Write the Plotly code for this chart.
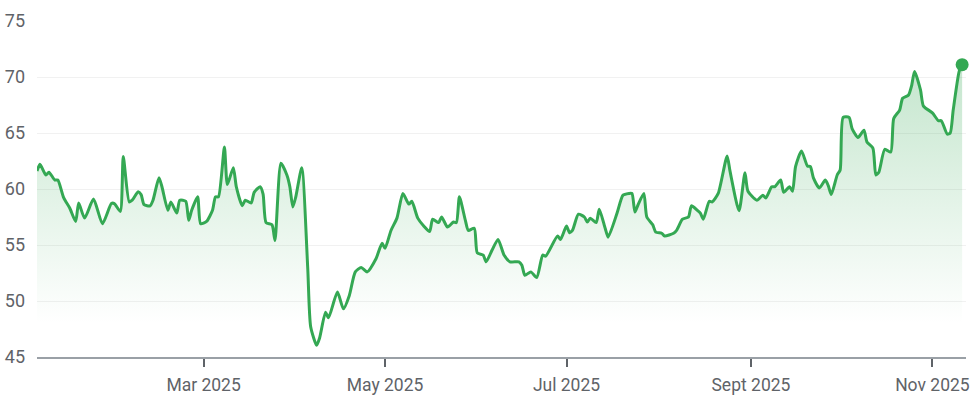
import pandas as pd
import plotly.graph_objects as go

# Day offsets from 2025-01-01 and closing prices
day_offsets = [
    3, 4, 6, 7, 9, 10, 12, 14, 16, 17, 19, 22, 25, 28, 29, 31, 32, 34, 35, 37,
    38, 39, 41, 42, 44, 45, 47, 48, 50, 51, 53, 54, 55, 57, 58, 60, 62, 63, 64, 66,
    67, 69, 70, 72, 73, 75, 76, 78, 79, 80, 82, 83, 85, 87, 88, 89, 90, 92, 94, 95,
    97, 98, 100, 101, 104, 106, 108, 110, 112, 114, 117, 119, 120, 122, 124, 126, 128, 129, 131, 133,
    135, 136, 138, 139, 141, 143, 144, 145, 147, 148, 150, 151, 153, 154, 156, 158, 160, 162, 165, 166,
    167, 169, 171, 173, 174, 178, 179, 181, 182, 183, 185, 187, 188, 189, 191, 192, 194, 195, 198, 200,
    202, 203, 204, 205, 207, 208, 210, 211, 213, 214, 217, 218, 220, 222, 223, 225, 226, 227, 229, 230,
    232, 235, 236, 239, 241, 242, 245, 247, 248, 250, 251, 253, 254, 256, 257, 258, 260, 262, 263, 264,
    266, 268, 269, 270, 272, 273, 274, 276, 277, 279, 281, 282, 284, 285, 286, 288, 290, 291, 293, 294,
    296, 297, 298, 300, 301, 304, 306, 307, 309, 310, 311, 313, 314,
]
prices = [
    61.6, 62.2, 61.25, 61.5, 60.8, 60.8, 59.2, 58.3, 57.1, 58.75, 57.4, 59.1, 56.9, 58.7, 58.7, 58.0, 62.9, 58.85, 59.0, 59.75,
    59.5, 58.6, 58.5, 59.0, 61.0, 60.2, 58.1, 58.85, 57.85, 59.0, 58.9, 57.2, 58.1, 59.3, 56.9, 57.1, 58.1, 59.3, 59.3, 63.75,
    60.4, 61.9, 60.2, 58.5, 59.0, 58.75, 59.7, 60.2, 59.55, 57.0, 56.8, 55.4, 62.3, 61.25, 60.2, 58.4, 59.3, 61.9, 53.0, 47.7,
    46.05, 46.7, 49.0, 48.5, 50.8, 49.3, 50.5, 52.6, 53.0, 52.6, 53.8, 55.15, 54.7, 56.3, 57.4, 59.6, 58.65, 58.9, 57.4, 56.7,
    56.2, 57.3, 57.0, 57.5, 56.6, 57.05, 57.0, 59.3, 57.2, 56.3, 56.5, 54.3, 54.1, 53.5, 54.55, 55.5, 54.1, 53.5, 53.5, 53.2,
    52.3, 52.6, 52.1, 54.1, 54.0, 55.8, 55.5, 56.7, 56.1, 56.3, 57.75, 57.5, 57.05, 57.4, 57.0, 58.2, 56.5, 55.7, 57.85, 59.45,
    59.6, 59.6, 57.95, 58.55, 59.6, 57.5, 56.8, 56.15, 56.05, 55.8, 56.05, 56.3, 57.3, 57.5, 58.5, 58.1, 57.85, 57.3, 58.9, 58.85,
    59.6, 62.95, 61.55, 58.05, 61.45, 59.8, 59.0, 59.45, 59.2, 60.2, 60.2, 60.8, 59.7, 60.2, 59.8, 62.0, 63.4, 62.05, 62.0, 61.0,
    60.1, 60.8, 60.3, 59.5, 61.25, 61.7, 66.4, 66.4, 65.4, 64.6, 65.25, 64.2, 63.65, 61.25, 61.5, 63.55, 63.3, 66.3, 67.05, 68.1,
    68.4, 69.2, 70.5, 68.85, 67.4, 66.8, 66.1, 66.1, 64.9, 65.0, 67.05, 70.5, 71.1,
]

tick_dates = ["2025-03-01", "2025-05-01", "2025-07-01", "2025-09-01", "2025-11-01"]
tick_labels = ["Mar 2025", "May 2025", "Jul 2025", "Sept 2025", "Nov 2025"]
y_ticks = [45, 50, 55, 60, 65, 70, 75]

base = pd.Timestamp("2025-01-01")
dates = [base + pd.Timedelta(days=d) for d in day_offsets]

GREEN = "#34a853"
TEXT = "#5f6368"

fig = go.Figure()
fig.add_trace(go.Scatter(
    x=dates, y=prices, mode="lines",
    line=dict(color=GREEN, width=3, shape="spline", smoothing=0.6),
    fill="tozeroy",
    fillgradient=dict(type="vertical", start=48, stop=72,
                      colorscale=[[0, "rgba(52,168,83,0)"], [1, "rgba(52,168,83,0.30)"]]),
    hoverinfo="skip", showlegend=False,
))
fig.add_trace(go.Scatter(
    x=[dates[-1]], y=[prices[-1]], mode="markers",
    marker=dict(color=GREEN, size=13),
    cliponaxis=False, hoverinfo="skip", showlegend=False,
))

fig.update_layout(
    width=978, height=408,
    margin=dict(l=37, r=12, t=21, b=51),
    paper_bgcolor="white", plot_bgcolor="white",
    font=dict(family="Roboto", size=18, color=TEXT),
)
fig.update_xaxes(
    automargin=False,
    range=[dates[0], base + pd.Timedelta(days=315.3)],
    tickvals=tick_dates, ticktext=tick_labels,
    showgrid=False, zeroline=False,
    showline=True, linecolor="#9aa0a6", linewidth=2,
    ticks="outside", ticklen=8, tickwidth=2, tickcolor=TEXT,
    tickfont=dict(size=17.5, color=TEXT),
    ticklabelstandoff=3,
)
fig.update_yaxes(
    automargin=False,
    range=[45, 75], tickvals=y_ticks,
    showgrid=True, gridcolor="#f1f1f1", gridwidth=1,
    zeroline=False, showline=False, ticks="",
    tickfont=dict(size=18, color=TEXT),
    ticklabelstandoff=11,
)

fig.write_html(
    "out.html",
    config={"displayModeBar": False, "staticPlot": True},
    post_script="document.body.style.margin='0';document.body.style.overflow='hidden';",
)
